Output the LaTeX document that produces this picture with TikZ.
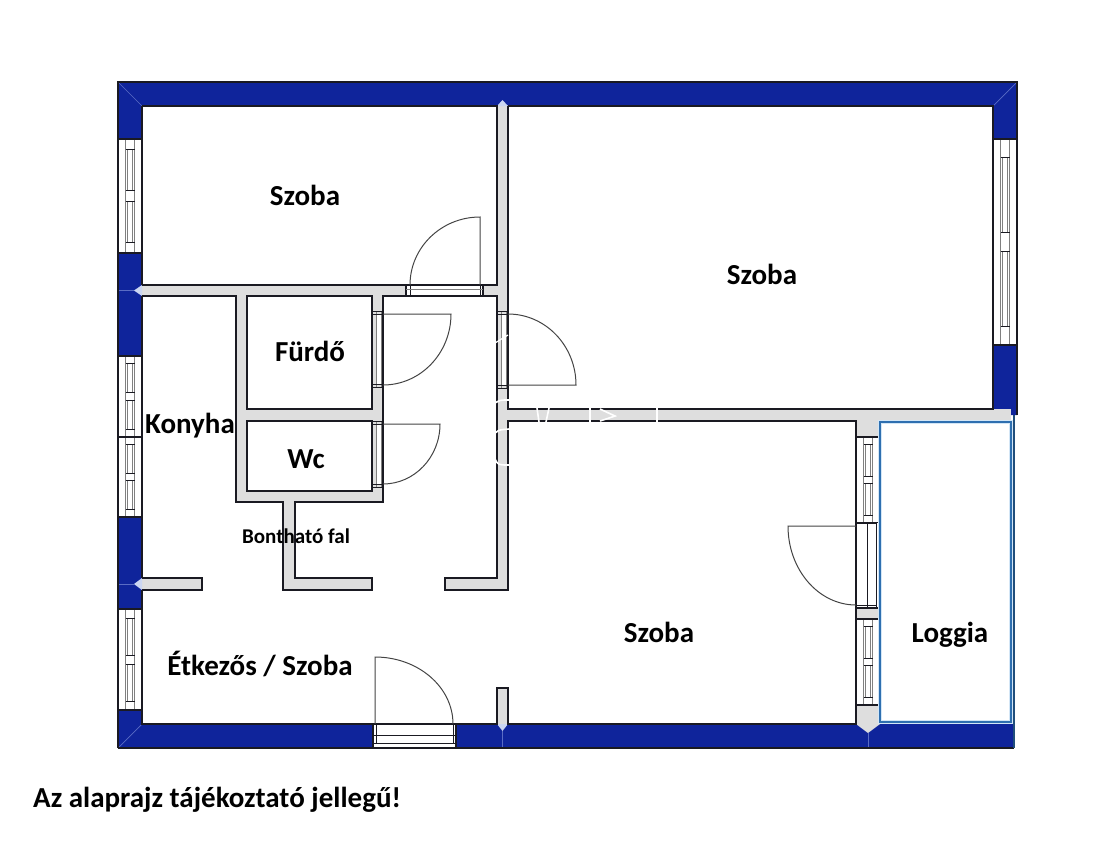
\documentclass[tikz,border=0pt]{standalone}
\usepackage{fontspec}
\setmainfont{Carlito}
\definecolor{wallblue}{HTML}{0F249B}
\definecolor{wallgray}{HTML}{DEDEDE}
\definecolor{seam}{HTML}{5A6CC4}
\definecolor{tiplight}{HTML}{CBD6F2}
\definecolor{logblue}{HTML}{2E6FB0}
\definecolor{loghalo}{HTML}{D3E6F6}
\definecolor{edge}{HTML}{1A1A22}
\definecolor{swing}{HTML}{444444}
\tikzset{
	blue wall/.style={fill=wallblue,draw=none},
	gray wall/.style={fill=wallgray,draw=none},
	wall line/.style={draw=edge,line width=1.4pt,line join=miter},
	thin line/.style={draw=edge,line width=0.8pt},
	door swing/.style={draw=swing,line width=1pt},
	glass/.style={draw=gray,line width=0.9pt},
	room/.style={font=\bfseries\fontsize{29}{33}\selectfont,inner sep=0pt}
}
% vertical window: centre x, top y, bottom y
\newcommand{\vwindow}[3]{
	\pgfmathsetmacro{\winh}{#3-#2}
	\pgfmathsetmacro{\wina}{#2+0.09*\winh}
	\pgfmathsetmacro{\winb}{(#2+#3)/2-0.045*\winh}
	\pgfmathsetmacro{\winc}{(#2+#3)/2+0.045*\winh}
	\pgfmathsetmacro{\wind}{#3-0.09*\winh}
	\fill[white] (#1-12,#2) rectangle (#1+12,#3);
	\draw[glass] (#1-4.5,#2) -- (#1-4.5,#3) (#1+4.5,#2) -- (#1+4.5,#3);
	\draw[glass] (#1-2.2,\wina) -- (#1-2.2,\winb) (#1+2.2,\wina) -- (#1+2.2,\winb);
	\draw[glass] (#1-2.2,\winc) -- (#1-2.2,\wind) (#1+2.2,\winc) -- (#1+2.2,\wind);
	\foreach \winy in {\wina,\winb,\winc,\wind}
		\draw[thin line] (#1-4.5,\winy) -- (#1+4.5,\winy);
	\draw[wall line] (#1-12,#2) -- (#1+12,#2) (#1-12,#3) -- (#1+12,#3);
}
% door frame in a vertical wall: left x, top y, bottom y
\newcommand{\vframe}[3]{
	\path[fill=wallgray] (#1,#2) rectangle (#1+11,#3);
	\fill[white] (#1+4,#2+3) rectangle (#1+9,#3-3);
	\draw[glass] (#1+4,#2) -- (#1+4,#3) (#1+9,#2) -- (#1+9,#3);
	\draw[wall line] (#1,#2) -- (#1,#3) (#1+11,#2) -- (#1+11,#3);
	\draw[thin line] (#1,#2) -- (#1+11,#2) (#1,#3) -- (#1+11,#3) (#1,#2+3) -- (#1+11,#2+3) (#1,#3-3) -- (#1+11,#3-3);
}
\begin{document}
\begin{tikzpicture}[x=1pt,y=-1pt]
	\useasboundingbox (0,0) rectangle (1116,841);

	% blue walls
	\path[blue wall] (118,82) rectangle (1017,106);
	\path[blue wall] (118,106) rectangle (142,139);
	\path[blue wall] (118,253) rectangle (142,356);
	\path[blue wall] (118,517) rectangle (142,609);
	\path[blue wall] (118,710) rectangle (142,748);
	\path[blue wall] (993,106) rectangle (1017,139);
	\path[blue wall] (993,345) -- (1017,345) -- (1017,415) -- (1010,415) -- (993,409) -- cycle;
	\path[blue wall] (142,724) rectangle (373,748);
	\path[blue wall] (456,724) rectangle (1014,748);
	\draw[seam,line width=0.7pt] (118,82) -- (142,106) (1017,82) -- (993,106) (118,748) -- (142,724);
	\draw[seam,line width=0.7pt] (118,290.5) -- (134,290.5) (118,584) -- (134,584);
	\draw[seam,line width=0.7pt] (502,731) -- (502,748) (868,733) -- (868,748);

	% gray walls
	\path[gray wall] (142,285) rectangle (497,296);
	\path[gray wall] (497,106) rectangle (508,590);
	\path[gray wall] (508,409) rectangle (1011,421);
	\path[gray wall] (236,296) rectangle (247,502);
	\path[gray wall] (372,296) rectangle (383,502);
	\path[gray wall] (236,409) rectangle (383,421);
	\path[gray wall] (236,491) rectangle (383,502);
	\path[gray wall] (283,502) rectangle (295,590);
	\path[gray wall] (283,578) rectangle (372,590);
	\path[gray wall] (445,578) rectangle (508,590);
	\path[gray wall] (142,578) rectangle (202,590);
	\path[gray wall] (497,688) rectangle (508,724);
	\path[gray wall] (856,421) rectangle (880,437);
	\path[gray wall] (856,608) rectangle (880,619);
	\path[gray wall] (856,705) rectangle (880,724);
	\path[fill=tiplight] (142,285) -- (134,290.5) -- (142,296) -- cycle;
	\path[fill=tiplight] (142,578) -- (134,584) -- (142,590) -- cycle;
	\path[fill=tiplight] (497,106) -- (502.5,100) -- (508,106) -- cycle;
	\path[fill=tiplight] (497,724) -- (502.5,731) -- (508,724) -- cycle;
	\path[fill=wallgray] (856,724) -- (868,733) -- (880,724) -- cycle;

	% windows
	\vwindow{130}{139}{253}
	\vwindow{130}{356}{437}
	\vwindow{130}{437}{517}
	\vwindow{130}{609}{710}
	\vwindow{1005}{139}{345}
	\vwindow{868}{437}{523}
	\vwindow{868}{619}{705}

	% wall lines
	\draw[wall line] (118,748) -- (118,82) -- (1017,82) -- (1017,415);
	\draw[wall line] (118,748) -- (373,748) (456,748) -- (1014,748);
	\draw[wall line] (142,106) -- (142,285) (142,296) -- (142,578) (142,590) -- (142,724) -- (373,724);
	\draw[wall line] (142,106) -- (497,106) -- (497,285) -- (483,285);
	\draw[wall line] (406,285) -- (142,285);
	\draw[wall line] (508,106) -- (993,106) -- (993,409) -- (508,409) -- (508,388);
	\draw[wall line] (508,311) -- (508,106);
	\draw[wall line] (142,296) -- (236,296) -- (236,502) -- (283,502) -- (283,590) -- (372,590) -- (372,578) -- (295,578) -- (295,502) -- (383,502) -- (383,296) -- (406,296);
	\draw[wall line] (483,296) -- (497,296) -- (497,311);
	\draw[wall line] (497,387) -- (497,578) -- (445,578) -- (445,590) -- (508,590) -- (508,421) -- (856,421) -- (856,724) -- (508,724) -- (508,688) -- (497,688) -- (497,724) -- (456,724);
	\draw[wall line] (247,296) rectangle (372,409);
	\draw[wall line] (247,421) rectangle (372,491);
	\draw[wall line] (142,578) -- (202,578) -- (202,590) -- (142,590);

	% doors
	\path[fill=white] (406,285) rectangle (483,296);
	\draw[wall line] (406,285) rectangle (483,296);
	\draw[thin line] (410,285) -- (410,296) (480,285) -- (480,296);
	\draw[glass] (406,289) -- (483,289);
	\draw[door swing] (480,285) -- (480,217) arc[start angle=-90,end angle=-180,x radius=70,y radius=68];

	\vframe{372}{311}{387}
	\draw[door swing] (383,314) -- (451,314) arc[start angle=0,end angle=90,x radius=68,y radius=71];

	\vframe{372}{421}{487}
	\draw[door swing] (383,424) -- (440,424) arc[start angle=0,end angle=90,x radius=57,y radius=60];

	\vframe{497}{311}{388}
	\draw[door swing] (508,385) -- (576,385) arc[start angle=0,end angle=-90,x radius=68,y radius=71];

	\path[fill=white] (373,724) rectangle (456,748);
	\draw[wall line] (373,724) rectangle (456,748);
	\draw[thin line] (373,735) -- (456,735) (373,743) -- (456,743);
	\draw[thin line] (376,724) -- (376,743) (453,724) -- (453,743);
	\draw[door swing] (375,724) -- (375,657) arc[start angle=-90,end angle=0,x radius=78,y radius=67];

	\path[fill=white] (856,523) rectangle (880,608);
	\draw[thin line] (867,523) -- (867,608) (876,523) -- (876,608);
	\draw[wall line] (856,523) -- (856,608) (856,523) -- (876,523) (856,608) -- (880,608) (856,619) -- (880,619);
	\draw[thin line] (856,605) -- (876,605);
	\draw[door swing] (856,526) -- (788,526) arc[start angle=180,end angle=90,x radius=68,y radius=79];

	% loggia
	\draw[loghalo,line width=4pt] (880,422) rectangle (1011,722);
	\draw[logblue,line width=1.8pt] (880,422) rectangle (1011,722);
	\draw[logblue!70!black,line width=1.6pt] (1014,415) -- (1014,748);

	% white marks on the walls
	\draw[white,line width=1.2pt] (495,343) -- (508,335);
	\draw[white,line width=1.6pt] (495,403) .. controls (500,400) .. (509,400);
	\draw[white,line width=1.6pt] (495,433) .. controls (498,430) .. (509,429);
	\draw[white,line width=1.6pt] (495,459) .. controls (498,465) .. (509,465);
	\draw[white,line width=1.6pt] (537,408) -- (539,422) (549,408) -- (546,422);
	\draw[white,line width=1.6pt] (590,408) -- (590,422);
	\draw[white,line width=1.6pt] (600,409) -- (615,416) -- (600,421);
	\draw[white,line width=1.6pt] (657,408) -- (657,422);

	% labels
	\node[room] (szobaa) at (305,195) {Szoba};
	\node[room] (szobab) at (762,274) {Szoba};
	\node[room] (szobac) at (659,632) {Szoba};
	\node[room] (furdo) at (310,351) {Fürdő};
	\node[room] (konyha) at (190,426) {Konyha};
	\node[room] (wc) at (306,459) {Wc};
	\node[room,font=\bfseries\fontsize{21}{24}\selectfont] (bonthato) at (296,536) {Bontható fal};
	\node[room] (etkezo) at (260,664) {Étkezős / Szoba};
	\node[room] (loggia) at (950,635) {Loggia};
	\node[room,anchor=base west] (megjegyzes) at (33,807) {Az alaprajz tájékoztató jellegű!};
\end{tikzpicture}
\end{document}
